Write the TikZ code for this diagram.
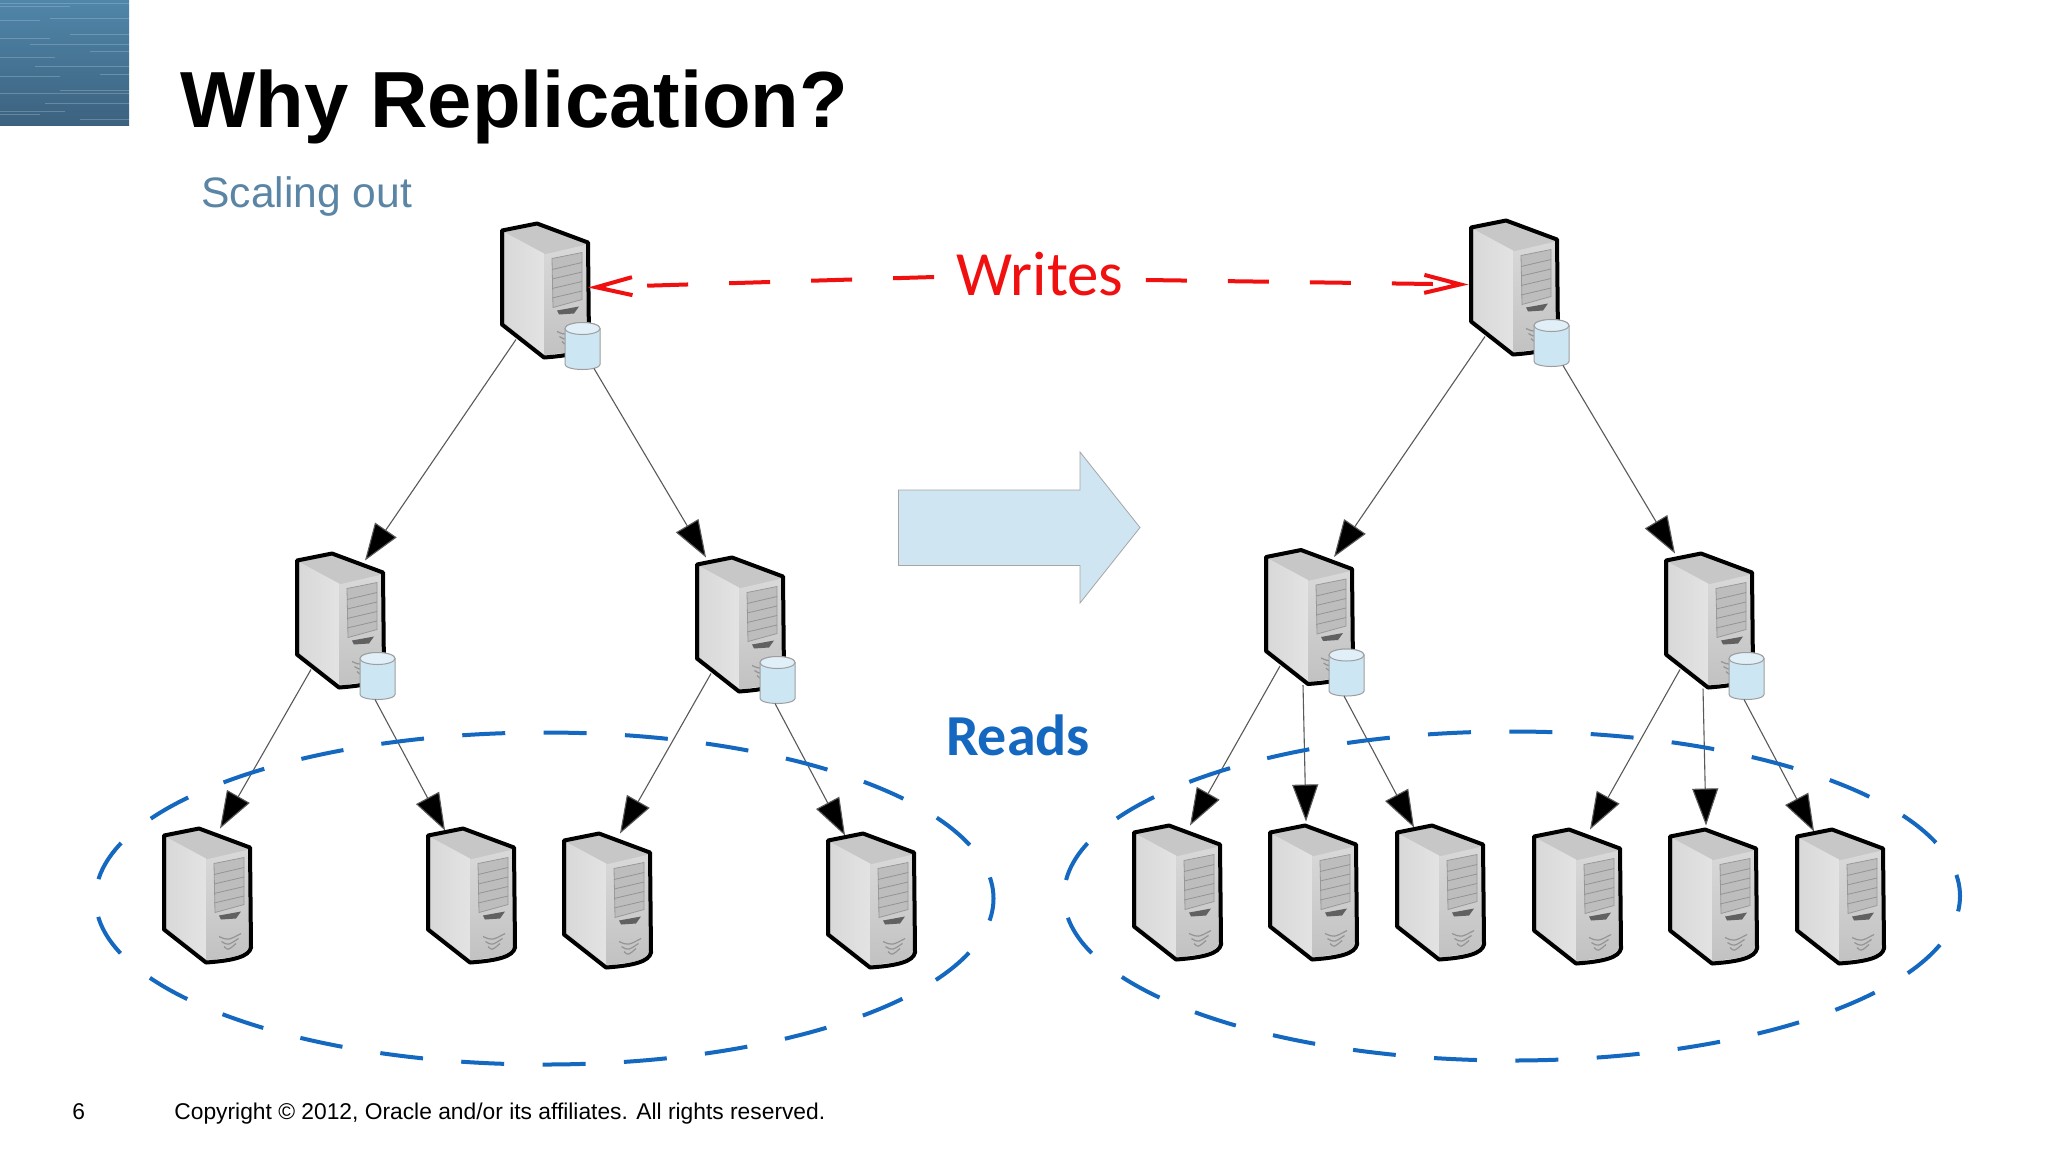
\documentclass[tikz,border=0pt]{standalone}
\usepackage{fontspec}
\setmainfont{Liberation Sans}
\newfontfamily\handfont{Carlito}
\usetikzlibrary{arrows.meta, shapes.geometric}
\definecolor{slateBlue}{HTML}{5B85A5}
\definecolor{tileTop}{HTML}{5086A9}
\definecolor{tileBottom}{HTML}{3C627F}
\definecolor{arrowFill}{HTML}{CFE5F2}
\definecolor{diskFill}{HTML}{CDE6F3}
\definecolor{writeRed}{HTML}{F01010}
\definecolor{readBlue}{HTML}{1468C0}
\tikzstyle{title} = [anchor=base west, inner sep=0pt, font=\fontsize{39.8}{40}\selectfont\bfseries]
\tikzstyle{subtitle} = [anchor=base west, inner sep=0pt, text=slateBlue, font=\fontsize{21.3}{21.5}\selectfont]
\tikzstyle{footer} = [anchor=base west, inner sep=0pt, font=\fontsize{11.4}{12}\selectfont]
\tikzstyle{link} = [draw=black!65, line width=0.55pt, -{Triangle[length=18.5pt,width=13pt,fill=black]}]
\tikzstyle{writeLine} = [draw=writeRed, line width=2pt, dash pattern=on 20.5pt off 20.5pt, -{Straight Barb[length=18pt,width=9pt]}]
\tikzstyle{readRing} = [draw=readBlue, line width=2pt, ellipse, inner sep=0pt, dash pattern=on 21.5pt off 19.2pt, dash phase=10.75pt]
\tikzset{
  server/.pic={
    \fill[black!22] (0,7) -- (35,0) -- (86,19) -- (87,119) -- (42,134) -- (0,101) -- cycle;
    \shade[left color=black!15, right color=black!11] (3,9) -- (42,30) -- (42,131) -- (3,100) -- cycle;
    \shade[top color=black!15, bottom color=black!24] (42,31) -- (85,21) -- (85,118) .. controls (83,126) and (70,130) .. (42,131) -- cycle;
    \fill[black!26] (50,35) -- (80,29) -- (80,76) -- (51,84) -- cycle;
    \draw[black!40, line width=0.4pt] (50,35) -- (80,29) -- (80,76) -- (51,84) -- cycle;
    \foreach \k in {0,1,2,3} \draw[black!42, line width=0.4pt] (50,46+9.5*\k) -- (80,39+9.5*\k);
    \fill[black!62] (55,87) -- (77,83) -- (72,90) -- (57,91) -- cycle;
    \foreach \k in {0,1,2} \draw[black!42, line width=0.6pt] (55+2.5*\k,108+5*\k) .. controls (64,112+5*\k) .. (77-2.5*\k,105+5*\k);
    \draw[line width=2pt, line join=round] (0,7) -- (35,0) -- (86,19) -- (87,119) .. controls (85,128) and (70,132) .. (42,134) -- (0,101) -- cycle;
    \coordinate (-sw) at (14,116);
    \coordinate (-s) at (37,135);
    \coordinate (-se) at (92,145);
    \coordinate (-ss) at (78,146);
    \coordinate (-ne) at (68,7);
    \coordinate (-nw) at (9,0);
    \coordinate (-lf) at (56,0);
    \coordinate (-rt) at (17,2);
    \coordinate (-top) at (36,-4);
    \coordinate (-west) at (-2.5,64);
    \coordinate (-east) at (86,64);
  },
  disk/.pic={
    \draw[black!38, fill=diskFill, line width=0.5pt] (63,105) -- (63,141) arc[start angle=180, end angle=0, x radius=17.5, y radius=5] -- (98,105) arc[start angle=0, end angle=-180, x radius=17.5, y radius=6] -- cycle;
    \draw[black!38, fill=diskFill!60!white, line width=0.5pt] (80.5,105) ellipse[x radius=17.5, y radius=6];
  }
}

\begin{document}
\begin{tikzpicture}[x=0.5pt, y=-0.5pt]

\useasboundingbox (0,0) rectangle (2048,1152);
\fill[white] (0,0) rectangle (2048,1152);

% corner tile
\shade[top color=tileTop, bottom color=tileBottom] (0,0) rectangle (129,125);
\foreach \y/\a/\b in {3/0/129,6/0/70,18/50/129,20/0/40,34/70/129,38/0/50,44/30/129,51/90/129,57/0/55,66/35/129,74/100/129,76/0/60,90/60/129,93/0/129,103/45/129,111/0/65,114/0/40,119/80/129}
  \draw[white!55!tileTop, opacity=0.35, line width=0.4pt] (\a,\y) -- (\b,\y);

\node (heading) [title] at (180,127) {Why Replication?};
\node (scaling) [subtitle] at (201,207) {Scaling out};
\node (pagenum) [footer] at (72,1119) {6};
\node (copyright) [footer] at (174,1119) {Copyright © 2012, Oracle and/or its affiliates. All rights reserved.};

% left tree
\foreach \name/\x/\y in {l0/502/223.5, l1/297/553.5, l2/697/557.5, a/164/828.5, b/428/828.5, c/564/833.5, d/828/833.5}
  \pic (\name) at (\x,\y) {server};
\foreach \x/\y in {502/223.5, 297/553.5, 697/557.5}
  \pic at (\x,\y) {disk};

% right tree
\foreach \name/\x/\y in {r0/1471/220.5, r1/1266/550, r2/1666/553.5, e/1134/825.5, f/1270/825.5, g/1397/825.5, h/1534/829.5, i/1670/829.5, j/1797/829.5}
  \pic (\name) at (\x,\y) {server};
\foreach \x/\y in {1471/220.5, 1266/550, 1666/553.5}
  \pic at (\x,\y) {disk};

\foreach \from/\to in {l0-sw/l1-ne, l0-se/l2-nw, l1-sw/a-lf, l1-ss/b-rt, l2-sw/c-lf, l2-ss/d-rt,
    r0-sw/r1-ne, r0-se/r2-nw, r1-sw/e-lf, r1-s/f-top, r1-ss/g-rt, r2-sw/h-lf, r2-s/i-top, r2-ss/j-rt}
  \draw [link] (\from) -- (\to);

\node (ringLeft) [readRing, minimum width=449pt, minimum height=166pt] at (544.5,898.5) {};
\node (ringRight) [readRing, minimum width=448pt, minimum height=164.5pt] at (1512,896) {};

\node (reads) [text=readBlue, font=\fontsize{29}{29}\selectfont\handfont\bfseries] at (1018,735) {Reads};
\node (writes) [text=writeRed, inner xsep=11pt, inner ysep=0pt, font=\fontsize{31.5}{32}\selectfont\handfont] at (1040,274) {Writes};

\draw [writeLine] ([yshift=-1.5pt]writes.west) -- (l0-east);
\draw [writeLine] ([yshift=-3pt]writes.east) -- (r0-west);

% big arrow
\draw[fill=arrowFill, draw=black!35, line width=0.4pt] (898.5,490) -- (1080,490) -- (1080,452) -- (1140,527.5) -- (1080,603) -- (1080,565.5) -- (898.5,565.5) -- cycle;

\end{tikzpicture}
\end{document}
